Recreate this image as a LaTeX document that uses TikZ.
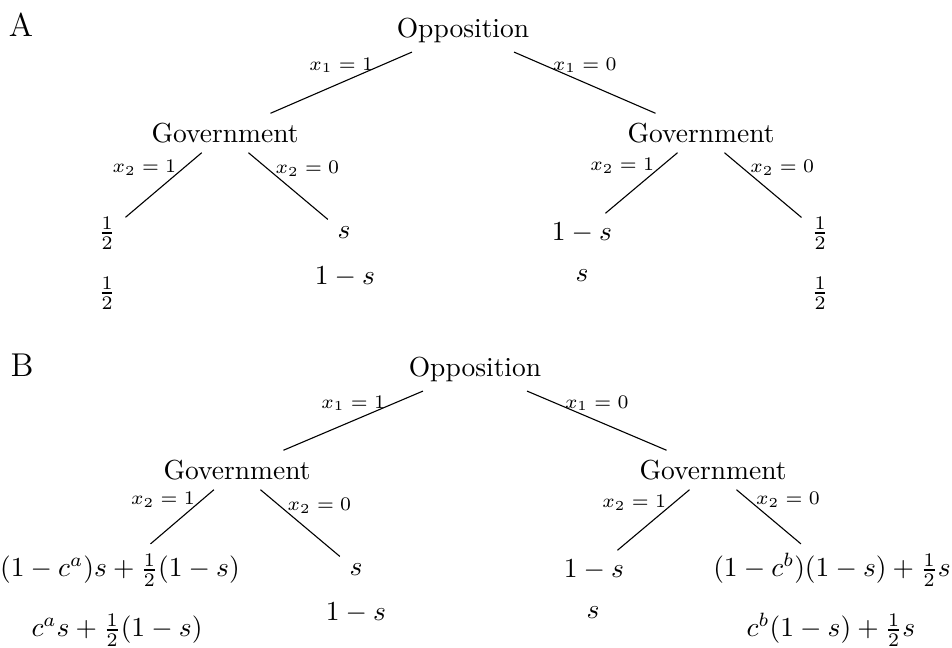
\documentclass[tikz,border=0pt]{standalone}
\usepackage{amsmath,amssymb}
\usepackage{tikz}

\begin{document}
\begin{tikzpicture}[x=0.3636pt,y=-0.3636pt,
    lbl/.style={midway,above,font=\scriptsize},
    lbll/.style={lbl,xshift=-7pt},
    lblr/.style={lbl,xshift=7pt}]
      \useasboundingbox (0,0) rectangle (952,648);
      \node (tagA) at (21,25){\large A};
      \node (oA) at (463,30){Opposition};
      \node (gA1) at (225,133){Government};
      \node (gA2) at (701,133){Government};
      \node (lA1) at (107,233){$\frac12$};
      \node (lA1b) at (107,293){$\frac12$};
      \node (lA2) at (344,233){$s$};
      \node (lA2b) at (345,277){$1-s$};
      \node (lA3) at (582,233){$1-s$};
      \node (lA3b) at (582,276){$s$};
      \node (lA4) at (820,233){$\frac12$};
      \node (lA4b) at (820,293){$\frac12$};
      \node (tagB) at (22,365){\large B};
      \node (oB) at (475,369){Opposition};
      \node (gB1) at (237,470){Government};
      \node (gB2) at (713,470){Government};
      \node (lB1) at (120,570){$(1-c^a)s+\frac12(1-s)$};
      \node (lB1b) at (117,630){$c^as+\frac12(1-s)$};
      \node (lB2) at (356,570){$s$};
      \node (lB2b) at (356,613){$1-s$};
      \node (lB3) at (594,570){$1-s$};
      \node (lB3b) at (593,613){$s$};
      \node (lB4) at (832,570){$(1-c^b)(1-s)+\frac12s$};
      \node (lB4b) at (831,630){$c^b(1-s)+\frac12s$};
      \foreach \t in {A,B}{
        \draw (o\t)--(g\t1) node[lbl]{$x_1=1$};
        \draw (o\t)--(g\t2) node[lbl]{$x_1=0$};
        \draw (g\t1)--(l\t1) node[lbll]{$x_2=1$};
        \draw (g\t1)--(l\t2) node[lblr]{$x_2=0$};
        \draw (g\t2)--(l\t3) node[lbll]{$x_2=1$};
        \draw (g\t2)--(l\t4) node[lblr]{$x_2=0$};}
    \end{tikzpicture}
\end{document}
